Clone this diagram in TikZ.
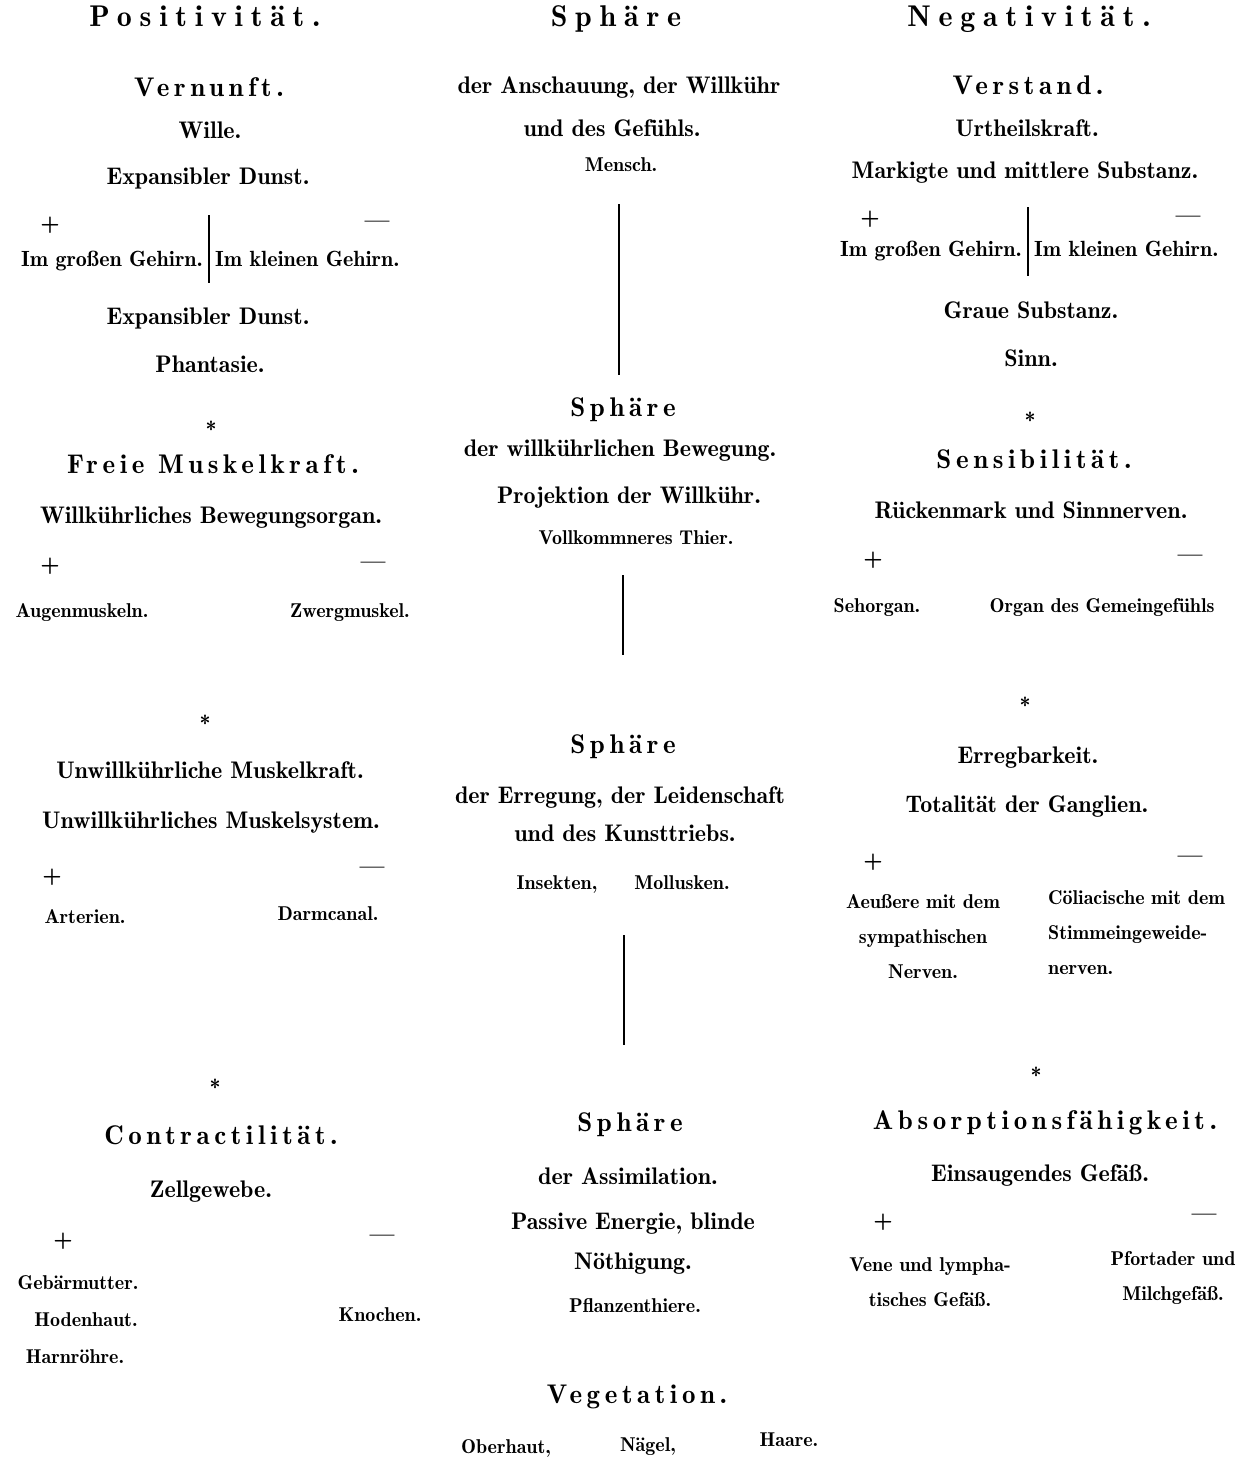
\documentclass[tikz,border=0pt]{standalone}
\usepackage{fontspec}
\setmainfont{lmromandemi10-regular.otf}
\newfontfamily\spacedfont[LetterSpace=17]{lmromandemi10-regular.otf}
\newfontfamily\bigspacedfont[LetterSpace=26]{lmromandemi10-regular.otf}

\begin{document}
\begin{tikzpicture}[x=1pt, y=-1pt,
  body/.style={inner sep=0pt, text height=17pt, text depth=5pt, font=\fontsize{24}{30}\selectfont},
  pair/.style={body, font=\fontsize{22}{30}\selectfont},
  minor/.style={body, font=\fontsize{20}{30}\selectfont},
  block/.style={inner sep=0pt, align=center, font=\fontsize{20}{35}\selectfont},
  bigtitle/.style={body, font=\bigspacedfont\fontsize{30}{30}\selectfont},
  spacedtitle/.style={body, font=\spacedfont\fontsize{27}{30}\selectfont},
  pm/.style={body, font=\fontsize{25}{30}\selectfont},
  star/.style={body, font=\fontsize{22}{30}\selectfont},
  bar/.style={line width=2.5pt}]
\useasboundingbox (0,0) rectangle (1257,1460);

% Positivitaet
\node[bigtitle] (pos) at (205,20) {Positivität.};
\node[spacedtitle] (vernunft) at (209,90) {Vernunft.};
\node[body] (wille) at (210,132) {Wille.};
\node[body] (dunstA) at (208,178) {Expansibler Dunst.};
\node[pm] (plusA) at (50,225) {+};
\node[pm] (minusA) at (377,222) {—};
\node[pair, anchor=east] (grossA) at (203,260) {Im großen Gehirn.};
\node[pair, anchor=west] (kleinA) at (215,260) {Im kleinen Gehirn.};
\coordinate (divAtop) at (209,215);
\coordinate (divAbot) at (209,283);
\draw[bar] (divAtop) -- (divAbot);
\node[body] (dunstB) at (208,318) {Expansibler Dunst.};
\node[body] (phantasie) at (210,366) {Phantasie.};

\node[star] (starA) at (211,431) {*};
\node[spacedtitle] (muskel) at (213,467) {Freie Muskelkraft.};
\node[body] (bewegorgan) at (211,517) {Willkührliches Bewegungsorgan.};
\node[pm] (plusB) at (50,566) {+};
\node[pm] (minusB) at (373,563) {—};
\node[minor] (augen) at (82,611) {Augenmuskeln.};
\node[minor] (zwerg) at (350,611) {Zwergmuskel.};

\node[star] (starB) at (205,725) {*};
\node[body] (unwillkraft) at (210,772) {Unwillkührliche Muskelkraft.};
\node[body] (unwillsys) at (211,822) {Unwillkührliches Muskelsystem.};
\node[pm] (plusC) at (52,877) {+};
\node[pm] (minusC) at (372,868) {—};
\node[minor] (arterien) at (85,917) {Arterien.};
\node[minor] (darm) at (328,914) {Darmcanal.};

\node[star] (starC) at (215,1089) {*};
\node[spacedtitle] (contract) at (221,1138) {Contractilität.};
\node[body] (zell) at (211,1191) {Zellgewebe.};
\node[pm] (plusD) at (63,1241) {+};
\node[pm] (minusD) at (382,1236) {—};
\node[minor] (gebaer) at (78,1283) {Gebärmutter.};
\node[minor] (hoden) at (86,1320) {Hodenhaut.};
\node[minor] (harn) at (75,1357) {Harnröhre.};
\node[minor] (knochen) at (380,1315) {Knochen.};

% Sphaere
\node[bigtitle] (sphA) at (616,20) {Sphäre};
\node[body] (anschauung) at (619,87) {der Anschauung, der Willkühr};
\node[body] (gefuehl) at (612,130) {und des Gefühls.};
\node[minor] (mensch) at (621,165) {Mensch.};
\coordinate (lineAtop) at (619,204);
\coordinate (lineAbot) at (619,375);
\draw[bar] (lineAtop) -- (lineAbot);

\node[spacedtitle] (sphB) at (623,410) {Sphäre};
\node[body] (willbew) at (620,450) {der willkührlichen Bewegung.};
\node[body] (projektion) at (629,497) {Projektion der Willkühr.};
\node[minor] (thier) at (636,538) {Vollkommneres Thier.};
\coordinate (lineBtop) at (623,575);
\coordinate (lineBbot) at (623,655);
\draw[bar] (lineBtop) -- (lineBbot);

\node[spacedtitle] (sphC) at (623,747) {Sphäre};
\node[body] (erregung) at (620,797) {der Erregung, der Leidenschaft};
\node[body] (kunst) at (625,835) {und des Kunsttriebs.};
\node[minor] (insekten) at (557,883) {Insekten,};
\node[minor] (mollusken) at (682,883) {Mollusken.};
\coordinate (lineCtop) at (624,935);
\coordinate (lineCbot) at (624,1045);
\draw[bar] (lineCtop) -- (lineCbot);

\node[spacedtitle] (sphD) at (630,1125) {Sphäre};
\node[body] (assim) at (628,1178) {der Assimilation.};
\node[body] (passiv) at (633,1223) {Passive Energie, blinde};
\node[body] (noeth) at (633,1263) {Nöthigung.};
\node[minor] (pflanz) at (635,1306) {Pflanzenthiere.};

\node[spacedtitle] (veget) at (637,1397) {Vegetation.};
\node[minor] (oberhaut) at (506,1447) {Oberhaut,};
\node[minor] (naegel) at (648,1445) {Nägel,};
\node[minor] (haare) at (789,1440) {Haare.};

% Negativitaet
\node[bigtitle] (neg) at (1029,20) {Negativität.};
\node[spacedtitle] (verstand) at (1028,88) {Verstand.};
\node[body] (urtheil) at (1027,130) {Urtheilskraft.};
\node[body] (markig) at (1025,172) {Markigte und mittlere Substanz.};
\node[pm] (plusE) at (870,219) {+};
\node[pm] (minusE) at (1188,217) {—};
\node[pair, anchor=east] (grossB) at (1022,250) {Im großen Gehirn.};
\node[pair, anchor=west] (kleinB) at (1034,250) {Im kleinen Gehirn.};
\coordinate (divBtop) at (1028,207);
\coordinate (divBbot) at (1028,276);
\draw[bar] (divBtop) -- (divBbot);
\node[body] (graue) at (1031,312) {Graue Substanz.};
\node[body] (sinn) at (1031,360) {Sinn.};

\node[star] (starD) at (1030,422) {*};
\node[spacedtitle] (sensib) at (1034,462) {Sensibilität.};
\node[body] (ruecken) at (1031,512) {Rückenmark und Sinnnerven.};
\node[pm] (plusF) at (873,560) {+};
\node[pm] (minusF) at (1190,556) {—};
\node[minor] (sehorgan) at (877,606) {Sehorgan.};
\node[minor] (gemein) at (1102,606) {Organ des Gemeingefühls};

\node[star] (starE) at (1025,707) {*};
\node[body] (erreg) at (1028,757) {Erregbarkeit.};
\node[body] (totalitaet) at (1027,806) {Totalität der Ganglien.};
\node[pm] (plusG) at (873,862) {+};
\node[pm] (minusG) at (1190,857) {—};
\node[block] (aeussere) at (923,937) {Aeußere mit dem\\sympathischen\\Nerven.};
\node[block, align=left, anchor=west] (coeliac) at (1048,933) {Cöliacische mit dem\\Stimmeingeweide-\\nerven.};

\node[star] (starF) at (1036,1077) {*};
\node[spacedtitle] (absorp) at (1045,1123) {Absorptionsfähigkeit.};
\node[body] (einsaug) at (1040,1175) {Einsaugendes Gefäß.};
\node[pm] (plusH) at (883,1222) {+};
\node[pm] (minusH) at (1204,1215) {—};
\node[block] (vene) at (930,1282) {Vene und lympha-\\tisches Gefäß.};
\node[block] (pfort) at (1173,1278) {Pfortader und\\Milchgefäß.};
\end{tikzpicture}
\end{document}
